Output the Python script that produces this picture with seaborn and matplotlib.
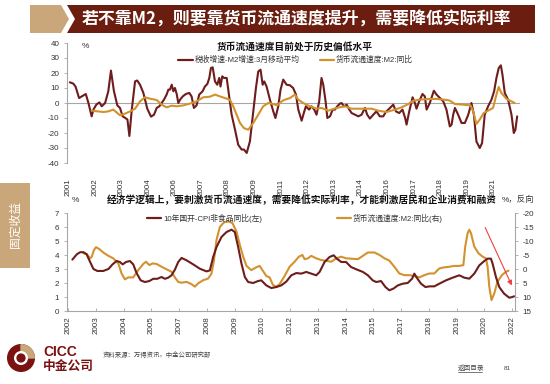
import numpy as np
import pandas as pd
import matplotlib
matplotlib.use("Agg")
import matplotlib.pyplot as plt
from matplotlib.patches import Polygon, Rectangle, Circle, Wedge
from matplotlib.lines import Line2D
import seaborn as sns

# ---------------- data (month offset from the first tick) ----------------
top_ticklabels = ["2001", "2002", "2003", "2004", "2006", "2007", "2008", "2009", "2011",
                  "2012", "2013", "2014", "2016", "2017", "2018", "2019", "2021"]
bot_ticklabels = ["2002", "2003", "2004", "2005", "2007", "2008", "2009", "2010", "2012",
                  "2013", "2014", "2015", "2017", "2018", "2019", "2020", "2022"]

tax_m2_month = [1, 3, 4.3, 6.2, 8.6, 10, 11.5, 13.3, 14.3, 16, 17.7, 19, 20.9, 22.7, 24.2, 25.9, 27.8, 29.3,
                30.8, 32.3, 33.5, 34.6, 35.9, 37.8, 39, 40.6, 42.5, 44.7, 46.8, 48.5, 50, 51.5, 52.8, 54.1,
                55.6, 56.6, 57.5, 58.5, 59.4, 60.3, 61.3, 62.2, 63.2, 64.7, 66.5, 68.4, 69.7, 71, 72.5, 74,
                75.9, 77.2, 78.6, 79.7, 80.6, 81.6, 82.9, 84.2, 85.3, 86, 87, 88, 89.5, 91, 92.3, 94.2, 96,
                97.9, 99.2, 100.8, 102.6, 104.5, 106, 107.3, 108.6, 109.8, 110.7, 112, 113.9, 115.8, 117,
                118.6, 119.9, 121.4, 123.3, 125.2, 127, 128.6, 129.9, 131.8, 133, 134.2, 136, 137.4, 138.9,
                140.2, 141.7, 143, 144, 145.3, 146.3, 147.8, 149.3, 150.6, 151.9, 153.4, 154.3, 155.7, 157.2,
                158.7, 160, 161.9, 163.8, 165.6, 167.5, 168.8, 170.3, 172.2, 174, 175.9, 177.8, 179.3, 181.6,
                183.5, 185, 186.8, 188.7, 190.2, 191, 192.5, 194.4, 195.7, 196.6, 198.1, 200, 201.3, 202.3,
                204.1, 206.4, 207.9, 209.8, 211.7, 213.5, 215.4, 216.4, 217.3, 218.3, 220.1, 222, 223.9,
                225.8, 227.6, 229, 230.4, 232.3, 233.6, 235.1, 237, 238.9, 240.4, 241.7, 243, 244.2, 245.1,
                246.4, 248.3, 250.2, 251.5, 252.4, 253.4]
tax_m2_value = [13.8, 12.9, 10.7, 3.3, 5, 6, 0, -8.9, -4.4, -1, 0.4, -2.2, 0, 7.8, 21.6, 7.8, -1.6, -3.3,
                -8.9, -10, -11, -22, -5, 14.4, 15, 12.2, 6.7, -3.8, -9.1, -7.8, -3.3, -2.2, 0, 2.2,
                5.6, 8.9, 8.9, 12.2, 7.8, 10, 6, 0, 2.2, 4.4, 6, 6.7, 4.4, -3.3, -1.6, 5.6,
                7.8, 11, 12.7, 16.7, 23.3, 23.8, 14.4, 12.2, 16.7, 11, 17.8, 16.7, 16.7, 3.3, -7.8, -17.8, -27.8,
                -31, -31, -33.3, -25.6, -5.6, 10, 21, 22.2, 12.2, 14.4, 11, 2.2, -5.6, -10,
                -2.2, 8.9, 15.6, 12.2, 11.8, 10, 5.6, -4.4, -11.8, -6.7, -2.2, -4.4, -2.2, -4.4,
                -7.8, 1.1, 16.7, 12.2, 1.1, -10, -8.9, -4.4, -4.4, -2.2, -0.4, 0, -2.2, -1.1,
                -4.4, -6.7, -7.8, -8.9, -7.8, -3.3, -7.8, -10.4, -7.8, -5.6, -8.9, -8.9, -6, -3.3,
                -1.1, -5.6, -6.7, -4.4, -10, -14.4, -5.6, 3.8, 0, -3.8, 1.1, 6, 4.4, -4.4,
                0, 8.2, 5.6, 3.3, 1.1, -4.4, -15.6, -14.4, -7.8, -3.3, -7.8, -13.3, -13.3,
                -7.8, 0, -7.8, -25.6, -30, -26.7, -7.8, -2.2, 2.2, 7.8, 16.7, 23.3, 25.1, 18.9,
                6.7, 2.2, -7.8, -20, -17.8, -8.9]

vel_top_month = [13.3, 19.9, 22.7, 25.5, 27.8, 29.3, 32.1, 35, 37.8, 40.6, 43.4, 46.2, 50, 52.8, 55.6, 58.5,
                 61.3, 65, 68.8, 72.5, 76.3, 80, 82.9, 85.7, 88.5, 91.3, 93.2, 95.1, 97, 99.2, 101.7, 104.5,
                 107.3, 110.1, 113, 115.8, 118, 120.5, 122.3, 125.2, 128, 129.9, 132.7, 136.5, 140.2, 143,
                 146.8, 151.5, 156.2, 160, 163.8, 167.5, 171.3, 175, 179.7, 184.5, 188.2, 192, 194.8, 198.5,
                 203.2, 207.9, 212.6, 215.4, 218.3, 223, 227.1, 228.6, 230.4, 232.3, 234.5, 237, 239.8, 241.7,
                 243, 244.5, 247.4, 250.2, 252]
vel_top_value = [-5.1, -6, -5.6, -4.4, -6.7, -8.2, -7.1, -5.6, -3.8, 1.1, 3.8, 2.9, 2, -1.1, -2.9, -1.8,
                 -2.2, -1.6, -0.4, 1.1, 3.8, 4.2, 5.6, 4.4, 3.3, 2.2, -2.2, -7.8, -13.3, -16.7, -17.8, -13.3,
                 -7.8, -2.2, 0, -0.7, -1.6, 1.1, 2.2, 3.3, 5.6, 2.2, 0, -2.2, -3.8, -3.3,
                 -5.1, -3.3, -2.2, -3.8, -3.8, -3.8, -3.8, -5.1, -6, -4.4, -2.9, -0.7, 1.6, 2.2,
                 2.7, 2.7, 2.2, 1.6, -0.7, -1.1, -1.6, -5.6, -14, -11, -6.7, -5.1, -3.3, 5.6,
                 10.7, 6.7, 2.7, 1.1, 0]

rate_month = [2.3, 4.7, 6.5, 8.3, 10, 11.9, 13.7, 15.8, 19, 21.8, 24, 26.2, 28, 29.5, 31.3, 33.4, 35.2, 37,
              39.2, 41.5, 43.9, 46, 48.2, 50.5, 52.3, 54.1, 55.9, 57.7, 59.5, 61.3, 64, 67.6, 71.2, 74.8,
              76.6, 78.4, 80.2, 82.9, 85.6, 88.3, 90.1, 91.9, 93.7, 95.5, 97.3, 100, 102.6, 104.4, 107.1,
              109.8, 112.5, 115.2, 117.9, 120.6, 123.3, 126, 128.7, 131.4, 134.1, 135.9, 138.6, 141.3,
              143.5, 145.2, 147.6, 150.2, 152.9, 155.7, 159.3, 162, 164.6, 166.5, 169.1, 171.5, 173.6,
              175.8, 178.2, 180.8, 183.5, 185.9, 187.1, 188.4, 190.7, 193.1, 195.2, 197.9, 200.6, 204.2,
              207.8, 211.4, 214.1, 216.8, 219.5, 222.2, 224.9, 226.7, 228.5, 229.4, 231.2, 233, 235.6,
              238.4, 240.1, 241]
rate_value = [3.67, 4.05, 4.2, 4.2, 4.05, 3.5, 3.0, 2.86, 2.86, 3.0, 3.33, 3.57, 3.5, 3.33, 3.5, 3.57, 3.33, 2.71,
              2.19, 2.07, 2.14, 2.3, 2.3, 2.43, 2.3, 2.38, 2.55, 2.95, 3.5, 3.79, 3.62, 3.33, 3.02, 2.83,
              2.9, 3.86, 4.57, 5.29, 5.64, 5.81, 5.64, 4.57, 3.38, 2.43, 2.07, 2.0, 2.14, 2.19, 1.83,
              1.64, 1.71, 1.83, 2.1, 2.55, 2.71, 2.67, 2.79, 2.67, 2.55, 2.79, 3.5, 3.86,
              3.98, 3.74, 3.5, 3.5, 3.14, 2.98, 2.79, 2.55, 2.19, 2.07, 2.14, 1.71, 1.48,
              1.6, 1.83, 1.95, 2.0, 2.31, 2.67, 2.38, 1.95, 1.71, 1.76, 1.76, 1.95, 2.19,
              2.38, 2.55, 2.38, 2.31, 2.67, 3.26, 3.57, 3.74, 3.74, 3.38, 2.43, 1.71, 1.24,
              0.95, 1.0, 1.05]

vel_bot_month = [8.3, 10, 11.9, 12.8, 14, 15.1, 16.9, 19, 21.8, 24.4, 27.1, 28.9, 30.7, 32.5, 35.2, 37.9, 40.6,
                 42.1, 43.9, 45.7, 47.8, 50.5, 53.2, 55.9, 57.7, 59.5, 61.3, 64, 66.7, 68.5, 70.3, 73, 75.7,
                 77.5, 78.7, 80.2, 82, 84.1, 86.5, 88.8, 91, 92.8, 94.6, 96.4, 99, 101.7, 103.5, 105, 107.1,
                 108.9, 110.7, 112.5, 114.3, 117, 119.7, 122.4, 124.7, 126.6, 127.8, 129.6, 131.4, 134.1,
                 136.8, 139.5, 142.2, 144.9, 147.6, 150.2, 152.9, 156.6, 159.3, 162, 165.6, 168.3, 171,
                 173.6, 176.3, 179, 181.7, 184.4, 187.1, 189.8, 192.5, 195.2, 197.9, 200.6, 203.3, 206,
                 208.7, 211.4, 213.6, 214.6, 215.9, 216.8, 217.7, 219.5, 221.8, 224, 225.8, 226.7, 227.6,
                 228.8, 230.3, 232, 234.4, 236.6, 238]
vel_bot_value = [-5.6, -5.4, -3.8, -4.4, -6.8, -7.8, -7.1, -5.9, -4.7, -3.8, -2, 1.6, 3.7, 3.0, 3.0, 0.4, -1.8,
                 -2.6, -1.4, -2, -1.8, -0.8, 0.1, 1.0, 3.0, 4.6, 4.9, 4.6, 5.4, 6.3, 5.1, 4.0, 3.4,
                 1.6, -2.6, -10.4, -15, -16.6, -17, -16.4, -13.4, -8.6, -4.4, -1.1, 0.4, -0.6, -1.1, 0.4, 2.5,
                 3.0, 5.7, 6.3, 5.4, 2.5, -0.8, -2.6, -4.4, -5, -3.5, -3.8, -4.7, -3.8,
                 -3.2, -2.9, -2.6, -3.8, -4.4, -3.8, -3.7, -3.5, -4.7, -5.9, -5.9, -5, -3.8,
                 -3, -0.8, 1.6, 2.2, 2.2, 2.5, 3.0, 2.2, 1.6, 1.6, -0.2, -0.6, -0.8,
                 -1.1, -1.1, -1.4, -8, -12.8, -14, -12.8, -8, -5.6, -4.4, -3.8, -0.8, 6.3,
                 11.1, 8.7, 4.6, 2.2, 1.0, 0.6]

BROWN = "#6E1C1C"
ORANGE = "#D2922E"
DARKBAR = "#6B1D0F"
TAN = "#C9A77B"
GRAY = "#A6A6A6"
TXT = "#333333"

sns.set_theme(style="white")
plt.rcParams["font.family"] = ["Liberation Sans", "Noto Sans CJK SC", "DejaVu Sans"]
plt.rcParams["axes.unicode_minus"] = False

W, H = 550, 384
fig = plt.figure(figsize=(5.5, 3.84), dpi=100)
fig.patch.set_facecolor("white")

def fx(px): return px / W
def fy(py): return 1 - py / H

# ---------- header ----------
fig.patches.append(Polygon([(fx(30), fy(5)), (fx(61), fy(5)), (fx(69), fy(19)), (fx(61), fy(33)), (fx(30), fy(33))],
                           closed=True, transform=fig.transFigure, facecolor=TAN, edgecolor="none"))
fig.patches.append(Polygon([(fx(67), fy(5)), (fx(535), fy(5)), (fx(535), fy(33)), (fx(67), fy(33)), (fx(75), fy(19))],
                           closed=True, transform=fig.transFigure, facecolor=DARKBAR, edgecolor="none"))
fig.text(fx(82), fy(19.5), "若不靠M2，则要靠货币流通速度提升，需要降低实际利率", color="white",
         fontsize=12.2, fontweight="bold", va="center", ha="left",
         family=["Noto Sans CJK SC", "Liberation Sans"])

# side tab
fig.patches.append(Rectangle((0, fy(268)), fx(30), (268 - 183) / H, transform=fig.transFigure,
                             facecolor=TAN, edgecolor="none"))
fig.text(fx(15), fy(225), "固定收益", color="white", fontsize=8.5, rotation=90, ha="center", va="center",
         family=["Noto Sans CJK SC"])

# ---------- top chart ----------
ax1 = fig.add_axes([fx(67), fy(163), (520 - 67) / W, (163 - 43) / H])
df_tax = pd.DataFrame({"m": tax_m2_month, "v": tax_m2_value})
df_vt = pd.DataFrame({"m": vel_top_month, "v": vel_top_value})
sns.lineplot(data=df_tax, x="m", y="v", ax=ax1, color=BROWN, lw=1.5, sort=False, estimator=None)
sns.lineplot(data=df_vt, x="m", y="v", ax=ax1, color=ORANGE, lw=1.5, sort=False, estimator=None)
for ln in ax1.lines:
    ln.set_solid_joinstyle("round")
ax1.axhline(0, color=GRAY, lw=0.8, zorder=0)
ax1.set_xlim(-0.6, 255)
ax1.set_ylim(-40, 40)
ax1.set_yticks(np.arange(-40, 41, 10))
ax1.set_yticklabels([str(v) for v in range(-40, 41, 10)])
ax1.set_xticks(np.arange(len(top_ticklabels)) * 15)
ax1.set_xticklabels(top_ticklabels, rotation=90)
for s in ["top", "right", "bottom"]:
    ax1.spines[s].set_visible(False)
ax1.spines["left"].set_color(GRAY)
ax1.spines["left"].set_linewidth(0.8)
ax1.tick_params(axis="y", which="both", left=True, length=2.5, width=0.6, color=GRAY, labelsize=5.8,
                labelcolor=TXT, pad=3)
ax1.tick_params(axis="x", bottom=False, labelsize=5.8, labelcolor=TXT, pad=5)
ax1.set_xlabel("")
ax1.set_ylabel("")
ax1.set_facecolor("white")

fig.text(fx(82), fy(46), "%", fontsize=6, color=TXT, ha="left", va="center")
fig.text(fx(295), fy(47), "货币流通速度目前处于历史偏低水平", fontsize=7, fontweight="bold", color="#111111",
         ha="center", va="center", family=["Noto Sans CJK SC"])
fig.add_artist(Line2D([fx(178), fx(193)], [fy(60), fy(60)], color=BROWN, lw=1.6, transform=fig.transFigure))
fig.text(fx(195), fy(60), "税收增速-M2增速:3月移动平均", fontsize=5.6, color=TXT, ha="left", va="center")
fig.add_artist(Line2D([fx(320), fx(334)], [fy(60), fy(60)], color=ORANGE, lw=1.6, transform=fig.transFigure))
fig.text(fx(336), fy(60), "货币流通速度:M2:同比", fontsize=5.6, color=TXT, ha="left", va="center")

# ---------- bottom chart ----------
ax2 = fig.add_axes([fx(67), fy(311), (515 - 67) / W, (311 - 213) / H])
ax3 = ax2.twinx()
df_rate = pd.DataFrame({"m": rate_month, "v": rate_value})
df_vb = pd.DataFrame({"m": vel_bot_month, "v": vel_bot_value})
sns.lineplot(data=df_vb, x="m", y="v", ax=ax3, color=ORANGE, lw=1.5, sort=False, estimator=None)
sns.lineplot(data=df_rate, x="m", y="v", ax=ax2, color=BROWN, lw=1.5, sort=False, estimator=None)
for a in (ax2, ax3):
    for ln in a.lines:
        ln.set_solid_joinstyle("round")
ax2.set_zorder(ax3.get_zorder() + 1)
ax2.patch.set_visible(False)
ax2.set_xlim(-0.6, 241.5)
ax2.set_ylim(0, 7)
ax3.set_ylim(15, -20)
ax2.set_yticks(range(0, 8))
ax3.set_yticks(range(-20, 16, 5))
ax3.set_yticklabels([str(v) for v in range(-20, 16, 5)])
ax2.set_xticks(np.arange(len(bot_ticklabels)) * 15)
ax2.set_xticklabels(bot_ticklabels, rotation=90)
for a in (ax2, ax3):
    a.spines["top"].set_visible(False)
    for s in ["left", "right", "bottom"]:
        a.spines[s].set_color(GRAY)
        a.spines[s].set_linewidth(0.8)
    a.set_xlabel("")
    a.set_ylabel("")
ax2.spines["right"].set_visible(False)
ax3.spines["left"].set_visible(False)
ax3.spines["bottom"].set_visible(False)
ax2.tick_params(axis="y", left=True, length=2.5, width=0.6, color=GRAY, labelsize=5.8, labelcolor=TXT, pad=3)
ax3.tick_params(axis="y", right=True, length=2.5, width=0.6, color=GRAY, labelsize=5.8, labelcolor=TXT, pad=3)
ax2.tick_params(axis="x", bottom=True, direction="in", length=2, width=0.6, color=GRAY, labelsize=5.8,
                labelcolor=TXT, pad=4)

fig.text(fx(72), fy(200), "%", fontsize=6, color=TXT, ha="left", va="center")
fig.text(fx(302), fy(200), "经济学逻辑上，要刺激货币流通速度，需要降低实际利率，才能刺激居民和企业消费和融资",
         fontsize=7, fontweight="bold", color="#111111", ha="center", va="center", family=["Noto Sans CJK SC"])
fig.text(fx(502), fy(200), "%，反向", fontsize=6, color=TXT, ha="left", va="center")
fig.add_artist(Line2D([fx(147), fx(161)], [fy(218), fy(218)], color=BROWN, lw=1.6, transform=fig.transFigure))
fig.text(fx(163), fy(218), "10年国开-CPI非食品同比(左)", fontsize=5.6, color=TXT, ha="left", va="center")
fig.add_artist(Line2D([fx(337), fx(351)], [fy(218), fy(218)], color=ORANGE, lw=1.6, transform=fig.transFigure))
fig.text(fx(353), fy(218), "货币流通速度:M2:同比(右)", fontsize=5.6, color=TXT, ha="left", va="center")

# red arrow
fig.add_artist(matplotlib.patches.FancyArrowPatch((fx(484), fy(225)), (fx(513), fy(288)),
                                                  transform=fig.transFigure, arrowstyle="-|>",
                                                  mutation_scale=7, color="#F04040", lw=0.8))

# ---------- footer ----------
lax = fig.add_axes([fx(7), fy(372), 28 / W, 28 / H])
lax.set_xlim(-1, 1)
lax.set_ylim(-1, 1)
lax.set_aspect("equal")
lax.axis("off")
lax.add_patch(Circle((0, 0), 0.95, color="#7A1212"))
lax.add_patch(Wedge((0, 0), 0.95, 0, 90, color=TAN))
lax.add_patch(Circle((0, 0), 0.45, color="white"))
lax.add_patch(Circle((0, 0), 0.28, color="#7A1212"))

fig.text(fx(43), fy(352), "CICC", fontsize=10, fontweight="bold", color="#7A1212", ha="left", va="center")
fig.text(fx(43), fy(366.5), "中金公司", fontsize=9.2, fontweight="bold", color="#7A1212", ha="left", va="center",
         family=["Noto Sans CJK SC"])
fig.text(fx(103), fy(355), "资料来源：万得资讯，中金公司研究部", fontsize=4.6, color="#444444", ha="left",
         va="center", family=["Noto Sans CJK SC"])
fig.text(fx(458), fy(368), "返回目录", fontsize=4.8, color="#444444", ha="left", va="center",
         family=["Noto Sans CJK SC"])
fig.add_artist(Line2D([fx(458), fx(482)], [fy(372), fy(372)], color="#444444", lw=0.5, transform=fig.transFigure))
fig.text(fx(504), fy(368), "81", fontsize=4.5, color="#444444", ha="left", va="center")

fig.savefig("out.png", dpi=100)
